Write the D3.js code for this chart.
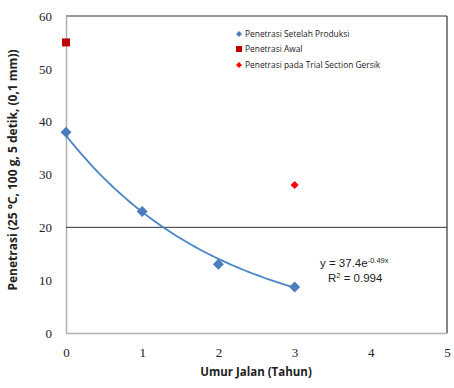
<!DOCTYPE html>
<html>
<head>
<meta charset="utf-8">
<script src="https://cdn.jsdelivr.net/npm/d3@7"></script>
<style>
  html, body { margin: 0; padding: 0; background: #fff; }
  svg { display: block; }
</style>
</head>
<body>
<svg id="chart" width="454" height="388"></svg>
<script>
// Penetration vs. road age
const xTicks = [0, 1, 2, 3, 4, 5];
const yTicks = [0, 10, 20, 30, 40, 50, 60];

const setelahX = [0, 1, 2, 3];
const setelahY = [38, 23, 13, 8.7];

const awalX = [0];
const awalY = [55];

const gersikX = [3];
const gersikY = [28];

const limitY = 20;

// exponential trendline y = a * e^(b x)
const trendA = 37.4;
const trendB = -0.49;
const trendDomain = [0, 3];

const legendLabels = ["Penetrasi Setelah Produksi", "Penetrasi Awal", "Penetrasi pada Trial Section Gersik"];

const svg = d3.select("#chart");
const plotLeft = 66, plotRight = 447, plotTop = 16, plotBottom = 333;

const x = d3.scaleLinear().domain([0, 5]).range([plotLeft, plotRight]);
const y = d3.scaleLinear().domain([0, 60]).range([plotBottom, plotTop]);

// frame
svg.append("line").attr("x1", plotLeft).attr("x2", plotRight).attr("y1", plotTop).attr("y2", plotTop)
  .attr("stroke", "#333").attr("stroke-width", 1.2);
svg.append("line").attr("x1", plotRight).attr("x2", plotRight).attr("y1", plotTop).attr("y2", plotBottom)
  .attr("stroke", "#333").attr("stroke-width", 1.2);

// axes
const xAxis = svg.append("g").attr("transform", `translate(0,${plotBottom})`)
  .call(d3.axisBottom(x).tickValues(xTicks).tickSize(0).tickPadding(15).tickFormat(d3.format("d")));
const yAxis = svg.append("g").attr("transform", `translate(${plotLeft},0)`)
  .call(d3.axisLeft(y).tickValues(yTicks).tickSize(0).tickPadding(14).tickFormat(d3.format("d")));
[xAxis, yAxis].forEach(g => {
  g.select(".domain").attr("stroke", "#b0b0b0").attr("stroke-width", 1.5);
  g.selectAll("text").attr("font-family", "'Liberation Serif', serif").attr("font-size", 13).attr("fill", "#222");
});

// reference line
svg.append("line").attr("x1", plotLeft).attr("x2", plotRight).attr("y1", y(limitY)).attr("y2", y(limitY))
  .attr("stroke", "#333").attr("stroke-width", 1);

// trendline
const trendPts = d3.range(0, 61).map(i => {
  const t = trendDomain[0] + (trendDomain[1] - trendDomain[0]) * i / 60;
  return [t, trendA * Math.exp(trendB * t)];
});
svg.append("path").datum(trendPts)
  .attr("d", d3.line().x(d => x(d[0])).y(d => y(d[1])))
  .attr("fill", "none").attr("stroke", "#4a86c5").attr("stroke-width", 1.8);

// markers
const diamond = s => `M0,${-s}L${s},0L0,${s}L${-s},0Z`;
svg.append("g").selectAll("path").data(setelahX.map((d, i) => [d, setelahY[i]])).join("path")
  .attr("transform", d => `translate(${x(d[0])},${y(d[1])})`)
  .attr("d", diamond(5.5)).attr("fill", "#4a7ebb");
svg.append("g").selectAll("rect").data(awalX.map((d, i) => [d, awalY[i]])).join("rect")
  .attr("x", d => x(d[0]) - 4).attr("y", d => y(d[1]) - 4)
  .attr("width", 8).attr("height", 8).attr("fill", "#c00000");
svg.append("g").selectAll("path").data(gersikX.map((d, i) => [d, gersikY[i]])).join("path")
  .attr("transform", d => `translate(${x(d[0])},${y(d[1])})`)
  .attr("d", diamond(4)).attr("fill", "#ff0000");

// legend
const leg = svg.append("g").attr("font-family", "'Open Sans', sans-serif").attr("font-size", 8.4).attr("fill", "#222");
const legY = [34, 49, 65];
leg.append("path").attr("transform", `translate(239,${legY[0]})`).attr("d", diamond(3)).attr("fill", "#4a7ebb");
leg.append("rect").attr("x", 236).attr("y", legY[1] - 3).attr("width", 6).attr("height", 6).attr("fill", "#c00000");
leg.append("path").attr("transform", `translate(239,${legY[2]})`).attr("d", diamond(3)).attr("fill", "#ff0000");
leg.selectAll("text").data(legendLabels).join("text")
  .attr("x", 245).attr("y", (d, i) => legY[i]).attr("dy", "0.35em").text(d => d);

// equation
const eq = svg.append("g").attr("font-family", "'Liberation Sans', sans-serif").attr("fill", "#222");
const eqText = eq.append("text").attr("x", 320).attr("y", 267).attr("font-size", 11.5);
eqText.append("tspan").text("y = 37.4e");
eqText.append("tspan").attr("font-size", 7.5).attr("dy", -4).text("-0.49x");
const r2 = eq.append("text").attr("x", 328).attr("y", 282).attr("font-size", 11.5);
r2.append("tspan").text("R");
r2.append("tspan").attr("font-size", 7.5).attr("dy", -4).text("2");
r2.append("tspan").attr("dy", 4).text(" = 0.994");

// axis titles
svg.append("text").attr("x", 256).attr("y", 376).attr("text-anchor", "middle")
  .attr("font-family", "'Open Sans', sans-serif").attr("font-weight", "bold").attr("font-size", 11.5).attr("fill", "#222")
  .text("Umur Jalan (Tahun)");
svg.append("text").attr("transform", "translate(17,170) rotate(-90)").attr("text-anchor", "middle")
  .attr("font-family", "'Open Sans', sans-serif").attr("font-weight", "bold").attr("font-size", 12).attr("fill", "#222")
  .text("Penetrasi (25 °C, 100 g, 5 detik, (0,1 mm))");
</script>
</body>
</html>
